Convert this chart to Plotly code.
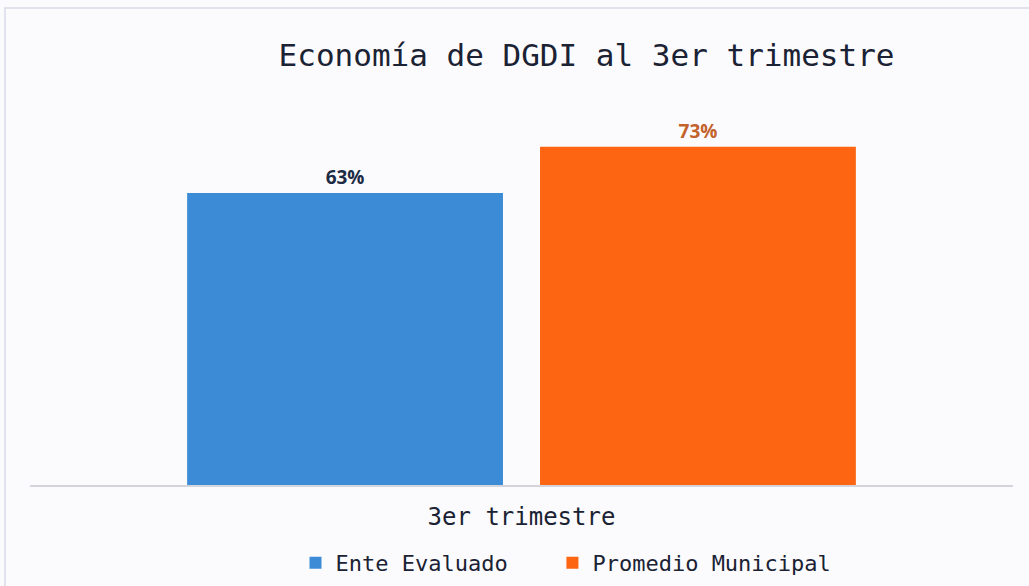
import plotly.graph_objects as go

categories = ["3er trimestre"]
series_names = ["Ente Evaluado", "Promedio Municipal"]
ente_values = [63]
promedio_values = [73]
bar_colors = ["#3b8bd6", "#fd6512"]
label_colors = ["#1e2b45", "#c4622b"]

MONO = "DejaVu Sans Mono"
NB = "\u00a0"

fig = go.Figure()
for i, (name, vals, col, lcol) in enumerate(zip(series_names, [ente_values, promedio_values], bar_colors, label_colors)):
    legend_name = name + (NB * 3 if i == 0 else "")
    fig.add_trace(go.Bar(
        x=categories, y=vals, name=legend_name,
        marker=dict(color=col, line=dict(width=0)),
        text=[f"<b>{v}%</b>" for v in vals],
        textposition="outside",
        textfont=dict(family="Open Sans", size=19, color=lcol),
        cliponaxis=False,
    ))

fig.update_layout(
    width=1029, height=586,
    paper_bgcolor="#fbfbfd", plot_bgcolor="#fbfbfd",
    margin=dict(l=30, r=16, t=117, b=101, autoexpand=False),
    barmode="group", bargap=0.282, bargroupgap=0.105,
    title=dict(text="Economía de DGDI al 3er trimestre", x=0.570, xanchor="center",
               xref="container", y=1 - 55/586, yanchor="middle", yref="container",
               font=dict(family=MONO, size=31, color="#1a2233")),
    xaxis=dict(showgrid=False, showline=True, linecolor="#d4d4dc", linewidth=1.5,
               ticks="", ticklabelstandoff=9,
               tickfont=dict(family=MONO, size=24, color="#1a2233")),
    yaxis=dict(range=[0, 79.4], visible=False, showgrid=False),
    showlegend=True,
    legend=dict(orientation="h", x=566/1029, xanchor="center", xref="container",
                y=1 - 563/586, yanchor="middle", yref="container",
                font=dict(family=MONO, size=22, color="#1a2233"),
                itemwidth=30, bgcolor="rgba(0,0,0,0)"),
    shapes=[dict(type="rect", xref="paper", yref="paper",
                 x0=-25/983, x1=1.1, y0=-0.5, y1=(485-8)/368,
                 line=dict(color="#d8dbe6", width=1.5), fillcolor="rgba(0,0,0,0)", layer="below")],
)

fig.write_html("out.html", config={"displayModeBar": False},
               post_script="document.body.style.margin='0';document.body.style.overflow='hidden';")
